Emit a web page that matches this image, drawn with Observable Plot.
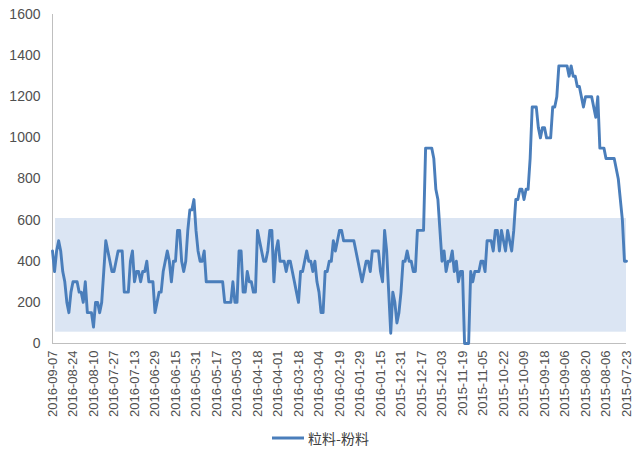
<!DOCTYPE html>
<html><head><meta charset="utf-8">
<script src="https://cdn.jsdelivr.net/npm/d3@7"></script>
<script src="https://cdn.jsdelivr.net/npm/@observablehq/plot@0.6"></script>
<style>
body{margin:0;background:#fff;}
#wrap{width:640px;}
#legend{display:flex;justify-content:center;align-items:center;height:32px;font-size:14px;color:#404040;font-family:"Noto Sans CJK SC","Noto Sans",sans-serif;}
#legend svg{margin-right:3px;}
</style></head><body><div id="wrap"><div id="chart"></div><div id="legend"></div></div>
<script>
const tickLabels = ["2016-09-07","2016-08-24","2016-08-10","2016-07-27","2016-07-13","2016-06-29","2016-06-15","2016-05-31","2016-05-17","2016-05-03","2016-04-18","2016-04-01","2016-03-18","2016-03-04","2016-02-19","2016-01-29","2016-01-15","2015-12-31","2015-12-17","2015-12-03","2015-11-19","2015-11-05","2015-10-22","2015-10-09","2015-09-18","2015-09-06","2015-08-20","2015-08-06","2015-07-23"];
const labelStep = 10;
const seriesName = "粒料-粉料";
const values = [
450,350,450,500,450,350,300,200,150,250,
300,300,300,250,250,200,300,150,150,150,
80,200,200,150,200,350,500,450,400,350,
350,400,450,450,450,250,250,250,400,450,
300,350,350,300,350,350,400,300,300,300,
150,200,250,250,350,400,450,400,300,400,
400,550,550,400,350,400,550,650,650,700,
550,450,400,400,450,300,300,300,300,300,
300,300,300,300,200,200,200,200,300,200,
200,450,450,250,250,350,300,300,250,250,
550,500,450,400,400,450,550,550,300,450,
500,400,400,400,350,400,400,350,300,250,
200,350,350,400,450,400,400,350,400,300,
250,150,150,350,350,400,400,500,450,500,
550,550,500,500,500,500,500,500,450,400,
350,300,350,400,400,350,450,450,450,450,
350,300,550,450,250,50,250,200,100,150,
250,400,400,450,400,400,350,350,550,550,
550,550,950,950,950,950,900,750,700,550,
400,450,350,400,400,450,350,400,300,350,
350,0,0,0,350,300,350,350,350,400,
400,350,500,500,500,450,550,550,450,550,
500,450,550,500,450,550,700,700,750,750,
700,750,750,900,1150,1150,1150,1050,1000,1050,
1050,1000,1000,1000,1150,1150,1200,1350,1350,1350,
1350,1350,1300,1350,1300,1300,1250,1250,1200,1150,
1200,1200,1200,1200,1150,1100,1200,950,950,950,
900,900,900,900,900,850,800,700,600,400,400
];
const bandValues = [55, 608];
const bandIndexSpan = [1.5, 280];
const yTicks = [0,200,400,600,800,1000,1200,1400,1600];

const lineColor = "#4a7ebb";
const data = values.map((v, i) => ({i, v}));

const chart = Plot.plot({
  width: 640,
  height: 422,
  marginLeft: 52,
  marginRight: 14,
  marginTop: 14,
  marginBottom: 79,
  style: {fontFamily: "'Liberation Sans', Arial, sans-serif", color: "#505050", background: "#fff"},
  x: {type: "linear", domain: [0, values.length - 1]},
  y: {domain: [0, 1600]},
  marks: [
    Plot.rect([{a: bandIndexSpan[0], b: bandIndexSpan[1], lo: bandValues[0], hi: bandValues[1]}],
      {x1: "a", x2: "b", y1: "lo", y2: "hi", fill: "#dbe5f3"}),
    Plot.ruleY([0], {stroke: "#bfbfbf", strokeWidth: 1}),
    Plot.ruleX([0], {stroke: "#bfbfbf", strokeWidth: 1}),
    Plot.line(data, {x: "i", y: "v", stroke: lineColor, strokeWidth: 2.9, strokeLinejoin: "round"}),
    Plot.axisY({ticks: yTicks, tickSize: 0, tickPadding: 12, fontSize: 14, tickFormat: d => String(d)}),
    Plot.axisX({ticks: tickLabels.map((d, k) => k * labelStep), tickFormat: v => tickLabels[Math.round(v / labelStep)],
      tickRotate: -90, tickSize: 0, tickPadding: 7, fontSize: 13})
  ]
});
document.getElementById("chart").appendChild(chart);

const legend = document.getElementById("legend");
legend.innerHTML = `<svg width="34" height="10"><line x1="1" y1="5" x2="33" y2="5" stroke="${lineColor}" stroke-width="3"/></svg><span>${seriesName}</span>`;
</script>
</body></html>
